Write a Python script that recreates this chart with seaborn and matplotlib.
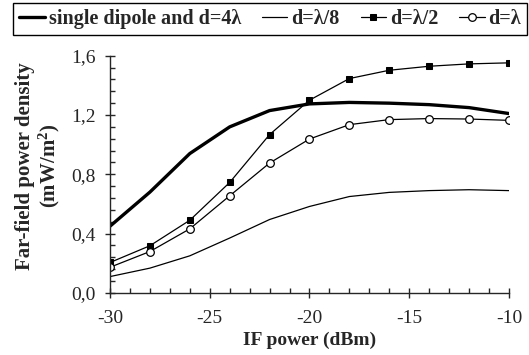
"""
Far-field power density vs IF power for several dipole spacings.
"""

import pandas as pd
import matplotlib.pyplot as plt
import seaborn as sns
from matplotlib.ticker import MultipleLocator, FuncFormatter

# -------------------------------------------------------------------
# data
# -------------------------------------------------------------------
if_power = [-30, -28, -26, -24, -22, -20, -18, -16, -14, -12, -10]

single_4lambda = [0.45, 0.68, 0.94, 1.12, 1.23, 1.275, 1.285, 1.28, 1.27, 1.25, 1.21]
d_lambda_8 = [0.11, 0.167, 0.25, 0.37, 0.495, 0.583, 0.65, 0.678, 0.69, 0.696, 0.69]
d_lambda_2 = [0.205, 0.318, 0.49, 0.745, 1.068, 1.30, 1.446, 1.502, 1.529, 1.545, 1.552]
d_lambda = [0.173, 0.279, 0.432, 0.655, 0.876, 1.038, 1.135, 1.169, 1.176, 1.173, 1.164]

labels = ['single dipole and d=4λ', 'd=λ/8', 'd=λ/2', 'd=λ']

df = pd.DataFrame({'if_power': if_power,
                   labels[0]: single_4lambda,
                   labels[1]: d_lambda_8,
                   labels[2]: d_lambda_2,
                   labels[3]: d_lambda})

# -------------------------------------------------------------------
# plot
# -------------------------------------------------------------------
sns.set_style('ticks')
plt.rcParams['font.family'] = ['Liberation Serif', 'DejaVu Serif']
plt.rcParams['axes.unicode_minus'] = False
plt.rcParams['mathtext.fontset'] = 'custom'
plt.rcParams['mathtext.rm'] = 'Liberation Serif'
plt.rcParams['mathtext.bf'] = 'Liberation Serif:bold'

fig = plt.figure(figsize=(5.29, 3.55), dpi=100)
ax = fig.add_axes([0.208, 0.175, 0.754, 0.668])

styles = [
    dict(lw=2.4, marker=None),
    dict(lw=0.9, marker=None),
    dict(lw=0.9, marker='s', markersize=5, markerfacecolor='black', markeredgecolor='black'),
    dict(lw=0.9, marker='o', markersize=5.5, markerfacecolor='white', markeredgecolor='black',
         markeredgewidth=0.9),
]
for lab, st in zip(labels, styles):
    sns.lineplot(data=df, x='if_power', y=lab, ax=ax, color='black', label=lab, **st)

ax.set_xlim(-30, -10)
ax.set_ylim(0, 1.6)
ax.xaxis.set_major_locator(MultipleLocator(5))
ax.xaxis.set_minor_locator(MultipleLocator(1))
ax.yaxis.set_major_locator(MultipleLocator(0.4))
ax.yaxis.set_minor_locator(MultipleLocator(0.08))
ax.yaxis.set_major_formatter(FuncFormatter(lambda v, p: f'{v:.1f}'.replace('.', ',')))

ax.tick_params(which='major', direction='inout', length=7, width=1, labelsize=14)
ax.tick_params(axis='x', which='major', pad=9)
ax.tick_params(axis='y', which='major', pad=7)
ax.tick_params(which='minor', direction='in', length=3.5, width=1)
sns.despine(ax=ax)
for s in ['left', 'bottom']:
    ax.spines[s].set_linewidth(1)

ax.set_xlabel('IF power (dBm)', fontsize=14, fontweight='bold', labelpad=3)
ax.set_ylabel('Far-field power density\n(mW/m$\\mathbf{^2}$)', fontsize=15,
              fontweight='bold', linespacing=1.1)
ax.yaxis.set_label_coords(-0.12, 0.535)

ax.legend(loc='center', bbox_to_anchor=(0.511, 0.946), bbox_transform=fig.transFigure,
          ncol=4, frameon=True, fancybox=False, edgecolor='black', framealpha=1,
          prop={'weight': 'bold', 'size': 14.5}, handlelength=1.25, handletextpad=0.2,
          columnspacing=1.05, borderpad=0.3, borderaxespad=0)

plt.savefig('out.png', dpi=100)
